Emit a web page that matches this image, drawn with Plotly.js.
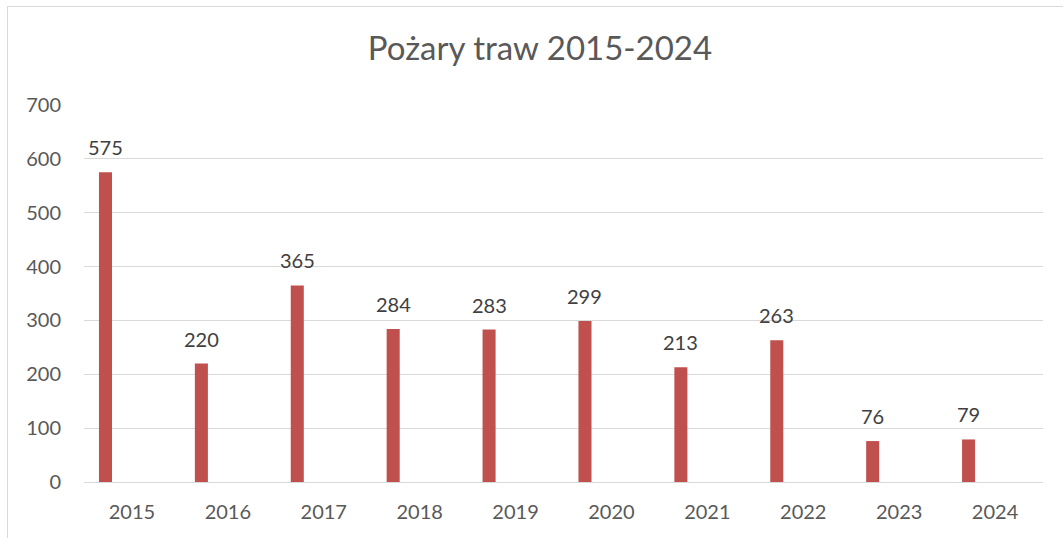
<!DOCTYPE html>
<html>
<head>
<meta charset="utf-8">
<script src="https://cdn.plot.ly/plotly-3.0.1.min.js"></script>
<style>
html,body{margin:0;padding:0;background:#fff;}
#wrap{position:relative;width:1063px;height:538px;overflow:hidden;}
#frame{position:absolute;left:7px;top:6px;width:1100px;height:600px;border:1px solid #d9d9d9;box-sizing:border-box;pointer-events:none;}
#chart{position:absolute;left:0;top:0;width:1063px;height:538px;}
</style>
</head>
<body>
<div id="wrap">
<div id="chart"></div>
<div id="frame"></div>
</div>
<script>
const years = ['2015','2016','2017','2018','2019','2020','2021','2022','2023','2024'];
const fires = [575, 220, 365, 284, 283, 299, 213, 263, 76, 79];
const yTicks = [0, 100, 200, 300, 400, 500, 600, 700];

const trace = {
  type: 'bar',
  x: years,
  y: fires,
  marker: {color: '#c0504d'},
  width: 0.136,
  offset: -0.344,
  hoverinfo: 'x+y'
};

// annotation x given as category index (years are numeric-like strings)
const labels = years.map((yr, i) => ({
  x: i,
  y: fires[i],
  text: String(fires[i]),
  showarrow: false,
  xanchor: 'center',
  yanchor: 'bottom',
  xshift: -26.5,
  yshift: 11,
  font: {family: 'Lato, sans-serif', size: 20, color: '#404040'}
}));

const layout = {
  width: 1063,
  height: 538,
  margin: {l: 84, r: 20, t: 105, b: 56},
  paper_bgcolor: 'rgba(0,0,0,0)',
  plot_bgcolor: 'rgba(0,0,0,0)',
  showlegend: false,
  font: {family: 'Lato, sans-serif', color: '#595959'},
  annotations: labels,
  title: {
    text: 'Pożary traw 2015-2024',
    font: {family: 'Lato, sans-serif', size: 33, color: '#595959'},
    x: 0.508, xanchor: 'center',
    y: 0.91, yanchor: 'middle'
  },
  xaxis: {
    type: 'category',
    categoryorder: 'array',
    categoryarray: years,
    range: [-0.5, years.length - 0.5],
    showgrid: false,
    showline: true,
    linecolor: '#d9d9d9',
    linewidth: 1,
    ticks: '',
    tickfont: {family: 'Lato, sans-serif', size: 20, color: '#595959'},
    ticklabelstandoff: 12
  },
  yaxis: {
    range: [0, 700],
    tickvals: yTicks,
    ticktext: yTicks.map(String),
    showgrid: true,
    gridcolor: '#d9d9d9',
    gridwidth: 1,
    zeroline: false,
    showline: false,
    ticks: '',
    tickfont: {family: 'Lato, sans-serif', size: 20, color: '#595959'},
    ticklabelstandoff: 22
  }
};

Plotly.newPlot('chart', [trace], layout, {displayModeBar: false, staticPlot: true});
</script>
</body>
</html>
